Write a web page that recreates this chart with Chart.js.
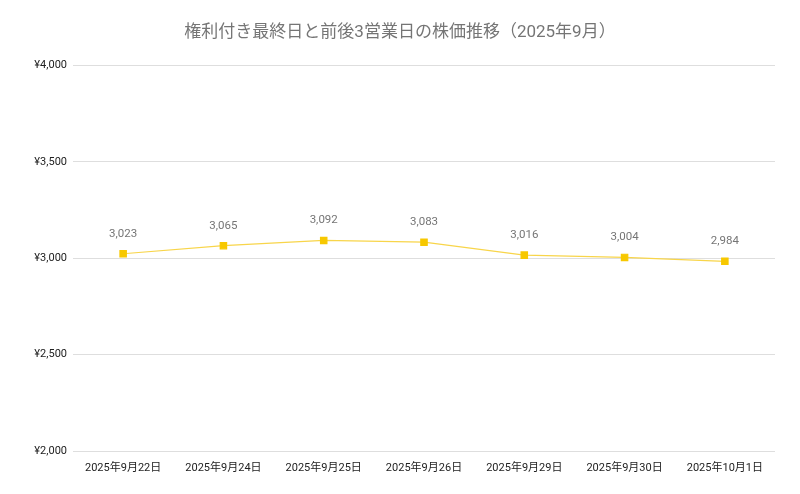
<!DOCTYPE html>
<html lang="ja">
<head>
  <meta charset="UTF-8" />
  <title>権利付き最終日と前後3営業日の株価推移</title>
  <script src="https://cdn.jsdelivr.net/npm/chart.js"></script>
  <style>
    body { margin: 0; background: #fff; }
    #wrap { width: 800px; height: 494px; }
  </style>
</head>
<body>
<div id="wrap"><canvas id="priceChart"></canvas></div>

<script>
const titleText = '権利付き最終日と前後3営業日の株価推移（2025年9月）';
const dates = ['2025年9月22日', '2025年9月24日', '2025年9月25日', '2025年9月26日', '2025年9月29日', '2025年9月30日', '2025年10月1日'];
const prices = [3023, 3065, 3092, 3083, 3016, 3004, 2984];
const yMin = 2000, yMax = 4000, yStep = 500;

const FONT = "Roboto, 'Noto Sans CJK JP', sans-serif";

// 点の上に値を描く
const valueLabels = {
  id: 'valueLabels',
  afterDatasetsDraw(chart) {
    const ctx = chart.ctx;
    const meta = chart.getDatasetMeta(0);
    ctx.save();
    ctx.font = '11.5px ' + FONT;
    ctx.fillStyle = '#757575';
    ctx.textAlign = 'center';
    ctx.textBaseline = 'middle';
    meta.data.forEach((pt, i) => {
      ctx.fillText(prices[i].toLocaleString('en-US'), pt.x, pt.y - 20);
    });
    ctx.restore();
  }
};

new Chart(document.getElementById('priceChart'), {
  type: 'line',
  data: {
    labels: dates,
    datasets: [{
      data: prices,
      borderColor: '#f8d54a',
      borderWidth: 1.2,
      pointStyle: 'rect',
      pointRadius: 4.5,
      pointBackgroundColor: '#f7c800',
      pointBorderColor: '#f7c800',
      tension: 0
    }]
  },
  options: {
    responsive: true,
    maintainAspectRatio: false,
    animation: false,
    layout: { padding: 0 },
    plugins: {
      legend: { display: false },
      tooltip: { enabled: false },
      title: {
        display: true,
        text: titleText,
        color: '#757575',
        font: { family: FONT, size: 17, weight: 'normal' },
        padding: { top: 23, bottom: 22 }
      }
    },
    scales: {
      x: {
        offset: true,
        grid: { display: false },
        border: { display: false },
        ticks: { color: '#222', font: { family: FONT, size: 11 }, padding: 3, maxRotation: 0 },
        afterFit(scale) { scale.height = 43; }
      },
      y: {
        min: yMin,
        max: yMax,
        grid: { color: '#dedede', drawTicks: false },
        border: { display: false },
        ticks: {
          stepSize: yStep,
          color: '#222',
          padding: 6,
          font: { family: FONT, size: 11 },
          callback: v => '¥' + v.toLocaleString('en-US')
        },
        afterFit(scale) { scale.width = 73; }
      },
      // 右側の余白用（表示なし）
      yRight: {
        position: 'right',
        grid: { display: false },
        border: { display: false },
        ticks: { display: false },
        afterFit(scale) { scale.width = 25; }
      }
    }
  },
  plugins: [valueLabels]
});
</script>
</body>
</html>
